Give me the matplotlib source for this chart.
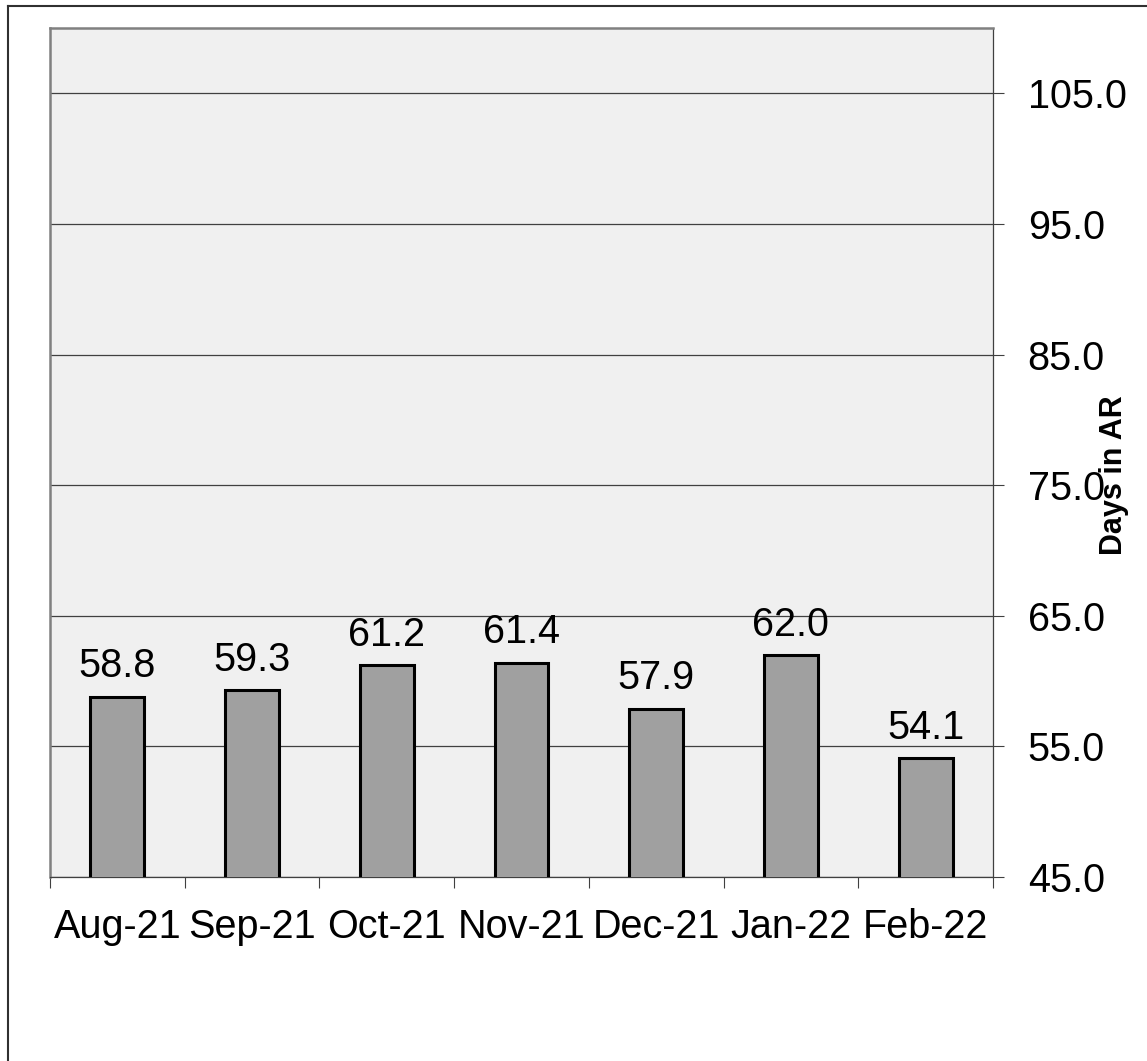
import matplotlib
matplotlib.use("Agg")
import matplotlib.pyplot as plt
from matplotlib.lines import Line2D
from matplotlib.ticker import FixedLocator, FormatStrFormatter

categories = ["Aug-21", "Sep-21", "Oct-21", "Nov-21", "Dec-21", "Jan-22", "Feb-22"]
values = [58.8, 59.3, 61.2, 61.4, 57.9, 62.0, 54.1]
y_ticks = [45.0, 55.0, 65.0, 75.0, 85.0, 95.0, 105.0]
y_label = "Days in AR"

plt.rcParams['font.family'] = ['Liberation Sans', 'DejaVu Sans']

W, H = 1147, 1061
fig = plt.figure(figsize=(W / 100, H / 100), dpi=100)
ax = fig.add_axes([50 / W, 1 - 877 / H, 943 / W, 849 / H])
ax.set_facecolor("#f0f0f0")

x = list(range(len(categories)))
bars = ax.bar(x, values, width=0.4, color="#a0a0a0", edgecolor="black", linewidth=2.2, zorder=3)

ax.set_xlim(-0.5, len(categories) - 0.5)
ax.set_ylim(45, 110)

for v, xi in zip(values, x):
    ax.annotate(f"{v:.1f}", (xi, v), xytext=(0, 14), textcoords="offset points",
                ha="center", va="baseline", fontsize=28.5, zorder=4)

# y axis on right
ax.yaxis.tick_right()
ax.yaxis.set_label_position("right")
ax.set_yticks(y_ticks)
ax.yaxis.set_major_formatter(FormatStrFormatter("%.1f"))
ax.tick_params(axis="y", direction="out", length=8, width=0.8, pad=17, labelsize=28.5,
               color="#404040")
for lbl in ax.get_yticklabels():
    lbl.set_horizontalalignment("left")
ax.set_ylabel(y_label, fontsize=22, fontweight="bold", rotation=90)
ax.yaxis.set_label_coords(1.112, 0.4735)

# gridlines
ax.grid(axis="y", color="#404040", linewidth=0.9, zorder=1)
ax.set_axisbelow(True)

# x ticks: labels at centers, marks at boundaries
ax.set_xticks(x)
ax.set_xticklabels(categories)
ax.tick_params(axis="x", which="major", length=0, pad=22, labelsize=28.5)
ax.xaxis.set_minor_locator(FixedLocator([i - 0.5 for i in range(len(categories) + 1)]))
ax.tick_params(axis="x", which="minor", direction="out", length=8, width=0.8, color="#404040")

for side in ["left", "top"]:
    ax.spines[side].set_color("#808080")
    ax.spines[side].set_linewidth(1.8)
for side in ["right", "bottom"]:
    ax.spines[side].set_color("#404040")
    ax.spines[side].set_linewidth(0.9)

# figure frame (top and left visible)
fig.add_artist(Line2D([8 / W, 1.0], [1 - 6 / H, 1 - 6 / H], color="#303030", linewidth=1.5,
                      transform=fig.transFigure))
fig.add_artist(Line2D([8 / W, 8 / W], [1 - 6 / H, 0.0], color="#303030", linewidth=1.5,
                      transform=fig.transFigure))

fig.savefig("out.png", dpi=100, facecolor="white")
